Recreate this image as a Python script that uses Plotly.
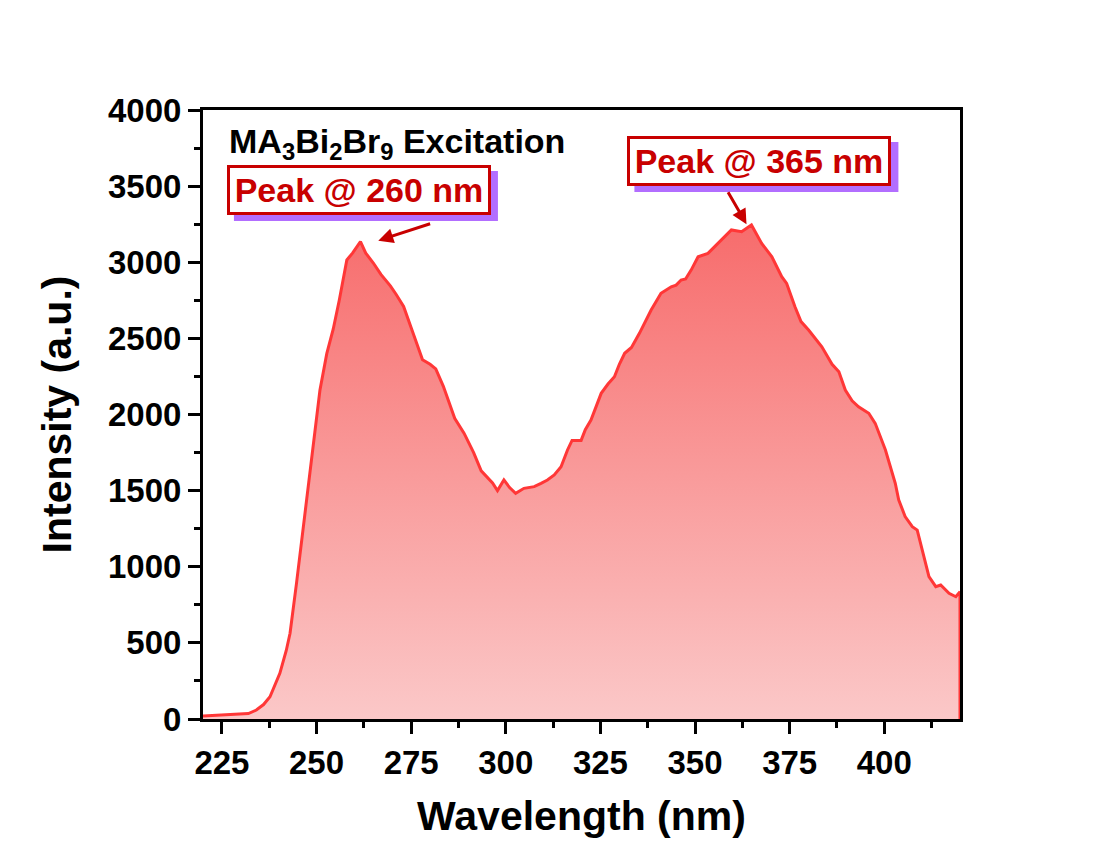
import plotly.graph_objects as go

# Excitation spectrum of MA3Bi2Br9
wavelength = [220, 222, 224, 226, 228, 230, 232, 234.1, 236, 237.7, 240.3, 242, 243, 244.7, 246,
              247.4, 249.6, 250.9, 252.7, 254.4, 256, 258, 259.5, 261.6, 263, 265, 267, 269.5,
              271, 273, 275, 277, 278, 280, 281.5, 283.5, 285, 286.5, 289, 291.5, 293.5, 295,
              296.5, 297.8, 299.5, 301, 302.6, 304.8, 307.5, 309.3, 311, 312.8, 314.6, 316.3,
              317.5, 319.9, 321, 322.5, 325.2, 327, 328.7, 330, 331.4, 333.2, 335.3, 338.4,
              341, 343.7, 345, 346.3, 347.5, 349, 350.8, 353.4, 355.2, 357, 359.6, 362.3,
              364.9, 367.6, 370.3, 372.9, 374.2, 376.4, 378, 380, 383.5, 386.2, 388, 389.7,
              391.5, 393.2, 395.9, 397.6, 400.3, 402.9, 403.8, 405.5, 407.4, 408.7, 410.1,
              411.8, 413.6, 414.9, 417.1, 418.9, 420]
intensity = [20, 22, 26, 25, 28, 30, 36, 59, 95, 146, 300, 450, 563, 891, 1150,
             1438, 1876, 2161, 2400, 2560, 2750, 3015, 3060, 3135, 3060, 2995, 2920, 2845,
             2790, 2710, 2570, 2420, 2360, 2330, 2300, 2185, 2080, 1975, 1876, 1750, 1630, 1590,
             1550, 1500, 1570, 1520, 1482, 1515, 1526, 1548, 1570, 1603, 1657, 1767,
             1830, 1830, 1900, 1964, 2139, 2200, 2248, 2330, 2402, 2440, 2533, 2686,
             2796, 2839, 2850, 2883, 2890, 2950, 3036, 3058, 3102, 3146, 3212, 3201,
             3245, 3124, 3036, 2905, 2861, 2708, 2610, 2555, 2445, 2330, 2280, 2161,
             2090, 2051, 2008, 1942, 1767, 1548, 1440, 1330, 1263, 1241, 1110,
             935, 869, 880, 826, 803, 836]

peak_labels = ["Peak @ 260 nm", "Peak @ 365 nm"]
x_ticks = [225, 250, 275, 300, 325, 350, 375, 400]
y_ticks = [0, 500, 1000, 1500, 2000, 2500, 3000, 3500, 4000]

FONT = "Arial, Liberation Sans, sans-serif"
LINE_RED = "rgb(255,55,55)"
DARK_RED = "rgb(200,0,0)"
SHADOW = "rgb(178,110,255)"
TICK_SIZE = 33
TITLE_SIZE = 41
NOTE_SIZE = 34

# label box geometry in pixels (inner width/height, padding, border, shadow offset)
BOX_W, BOX_H, BOX_PAD, BOX_BORDER = 254, 40, 2, 3
SHADOW_DX, SHADOW_DY = 7, 6

# close the outline down to the baseline at the last wavelength
outline_x = wavelength + [wavelength[-1]]
outline_y = intensity + [0]

fig = go.Figure()
fig.add_trace(go.Scatter(
    x=outline_x, y=outline_y, mode="lines",
    line=dict(color=LINE_RED, width=3),
    fill="tozeroy",
    fillgradient=dict(type="vertical", start=0, stop=3250,
                      colorscale=[[0, "rgb(251,200,200)"], [1, "rgb(247,108,108)"]]),
    showlegend=False, hoverinfo="skip",
))

axis_common = dict(
    showline=True, linecolor="black", linewidth=3, mirror=True,
    ticks="outside", ticklen=12, tickwidth=3, tickcolor="black",
    showgrid=False, zeroline=False,
    tickfont=dict(family=FONT, size=TICK_SIZE, color="black", weight="bold"),
)

fig.update_xaxes(
    range=[220, 420], tickvals=x_ticks, ticktext=[str(v) for v in x_ticks],
    minor=dict(tickvals=[v + 12.5 for v in x_ticks], ticklen=6, tickwidth=3,
               tickcolor="black", ticks="outside"),
    title=dict(text="Wavelength (nm)",
               font=dict(family=FONT, size=TITLE_SIZE, color="black", weight="bold"),
               standoff=22),
    **axis_common,
)
fig.update_yaxes(
    range=[0, 4000], tickvals=y_ticks, ticktext=[str(v) for v in y_ticks],
    minor=dict(dtick=250, ticklen=6, tickwidth=3, tickcolor="black", ticks="outside"),
    title=dict(text="Intensity (a.u.)",
               font=dict(family=FONT, size=TITLE_SIZE, color="black", weight="bold"),
               standoff=24),
    **axis_common,
)

annotations = [
    dict(x=226.3, y=3780, xref="x", yref="y", xanchor="left", yanchor="middle",
         text="MA<sub>3</sub>Bi<sub>2</sub>Br<sub>9</sub> Excitation", showarrow=False,
         font=dict(family=FONT, size=NOTE_SIZE, color="black", weight="bold")),
]
shapes = []

# labelled boxes with offset drop shadow: (center x, center y)
half_w = BOX_W / 2 + BOX_PAD + BOX_BORDER
half_h = BOX_H / 2 + BOX_PAD + BOX_BORDER
box_pos = [(261.2, 3475), (367.0, 3665)]
for (bx, by), label in zip(box_pos, peak_labels):
    shapes.append(dict(
        type="rect", xref="x", yref="y", xsizemode="pixel", ysizemode="pixel",
        xanchor=bx, yanchor=by,
        x0=-half_w + SHADOW_DX, x1=half_w + SHADOW_DX,
        y0=-half_h - SHADOW_DY, y1=half_h - SHADOW_DY,
        fillcolor=SHADOW, line=dict(width=0), layer="above"))
    annotations.append(dict(
        x=bx, y=by, xref="x", yref="y", text=label, showarrow=False,
        width=BOX_W, height=BOX_H, align="center", valign="middle",
        font=dict(family=FONT, size=NOTE_SIZE, color=DARK_RED, weight="bold"),
        bgcolor="white", bordercolor=DARK_RED, borderwidth=BOX_BORDER, borderpad=BOX_PAD))

# arrows: (head x, head y, tail x, tail y)
arrows = [(266.3, 3142, 280.4, 3256), (363.6, 3250, 358.5, 3470)]
for hx, hy, tx, ty in arrows:
    annotations.append(dict(
        x=hx, y=hy, xref="x", yref="y", ax=tx, ay=ty, axref="x", ayref="y",
        text="", showarrow=True, arrowhead=2, arrowsize=1, arrowwidth=3,
        arrowcolor=DARK_RED))

fig.update_layout(
    width=1100, height=851,
    margin=dict(l=203, r=140, t=110, b=132),
    paper_bgcolor="white", plot_bgcolor="white",
    annotations=annotations, shapes=shapes,
)

fig.write_html("out.html")
